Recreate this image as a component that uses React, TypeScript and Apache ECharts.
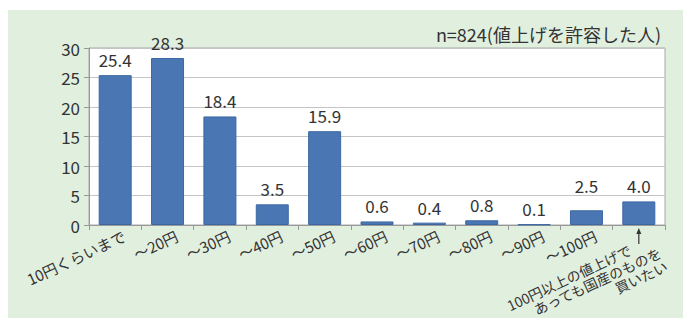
import React, { useEffect, useRef } from 'react';
import * as echarts from 'echarts';

const categories = [
  '10円くらいまで',
  '～20円',
  '～30円',
  '～40円',
  '～50円',
  '～60円',
  '～70円',
  '～80円',
  '～90円',
  '～100円',
  '100円以上の値上げで\nあっても国産のものを\n買いたい',
];
const values = [25.4, 28.3, 18.4, 3.5, 15.9, 0.6, 0.4, 0.8, 0.1, 2.5, 4.0];
const yMin = 0;
const yMax = 30;
const yStep = 5;
const sampleNote = 'n=824(値上げを許容した人)';

const FONT = '"Noto Sans CJK JP", "Noto Sans", sans-serif';
const TEXT = '#333333';

export default function App() {
  const ref = useRef<HTMLDivElement>(null);

  useEffect(() => {
    if (!ref.current) return;
    const chart = echarts.init(ref.current, null, { renderer: 'svg' });
    const last = categories.length - 1;

    const option: any = {
      animation: false,
      textStyle: { fontFamily: FONT },
      title: {
        text: sampleNote,
        right: 17,
        top: 20,
        textStyle: { fontFamily: FONT, fontSize: 18, fontWeight: 'normal', color: TEXT },
      },
      grid: {
        left: 89,
        right: 18,
        top: 48,
        bottom: 96,
        show: true,
        backgroundColor: '#ffffff',
        borderColor: '#a8a8a8',
        borderWidth: 1,
      },
      xAxis: {
        type: 'category',
        data: categories,
        axisLine: { show: true, lineStyle: { color: '#999999', width: 1 } },
        axisTick: { show: true, length: 5, lineStyle: { color: '#999999' } },
        axisLabel: {
          interval: 0,
          rotate: 25,
          margin: 14,
          fontSize: 15,
          fontFamily: FONT,
          color: TEXT,
          padding: [0, -10, 0, 0],
          formatter: (v: string, i: number) => (i === last ? '' : v),
        },
      },
      yAxis: {
        type: 'value',
        min: yMin,
        max: yMax,
        interval: yStep,
        axisLine: { show: true, lineStyle: { color: '#999999', width: 1 } },
        axisTick: { show: true, length: 5, lineStyle: { color: '#999999' } },
        axisLabel: { fontSize: 17, fontFamily: FONT, color: TEXT, margin: 9 },
        splitLine: { show: true, lineStyle: { color: '#c4c4c4', width: 1 } },
      },
      series: [
        {
          type: 'bar',
          barWidth: 33,
          data: values.map((v, i) =>
            i === 9 ? { value: v, label: { offset: [0, -9] } } : v
          ),
          itemStyle: { color: '#4a77b3', borderColor: '#3c68a3', borderWidth: 1 },
          label: {
            show: true,
            position: 'top',
            distance: 7,
            fontSize: 17,
            fontFamily: FONT,
            color: TEXT,
            formatter: (p: any) => Number(p.value).toFixed(1),
          },
        },
      ],
    };
    chart.setOption(option);

    const pt = chart.convertToPixel({ gridIndex: 0 }, [last, 0]) as number[];
    const px = pt[0];
    const py = pt[1];
    const lines = categories[last].split('\n');
    const lx = [-18, 8, 8];
    const ly = [11, 26, 41];
    chart.setOption({
      graphic: [
        {
          type: 'line',
          shape: { x1: px, y1: py + 6, x2: px, y2: py + 19 },
          style: { stroke: TEXT, lineWidth: 1.2 },
        },
        {
          type: 'polygon',
          shape: { points: [[px, py + 3], [px - 2.5, py + 9], [px + 2.5, py + 9]] },
          style: { fill: TEXT },
        },
        {
          type: 'group',
          x: px,
          y: py,
          rotation: (25 * Math.PI) / 180,
          children: lines.map((t, i) => ({
            type: 'text',
            x: lx[i],
            y: ly[i],
            style: {
              text: t,
              fontSize: 14,
              fontFamily: FONT,
              fill: TEXT,
              align: 'right',
              verticalAlign: 'top',
            },
          })),
        },
      ],
    });

    return () => chart.dispose();
  }, []);

  return (
    <div style={{ position: 'absolute', left: 0, top: 0, width: 683, height: 321, background: '#ffffff' }}>
      <div style={{ position: 'absolute', left: 8, top: 10, width: 675, height: 308, background: '#e1efdf' }} />
      <div ref={ref} style={{ position: 'absolute', left: 0, top: 0, width: 683, height: 321 }} />
    </div>
  );
}
